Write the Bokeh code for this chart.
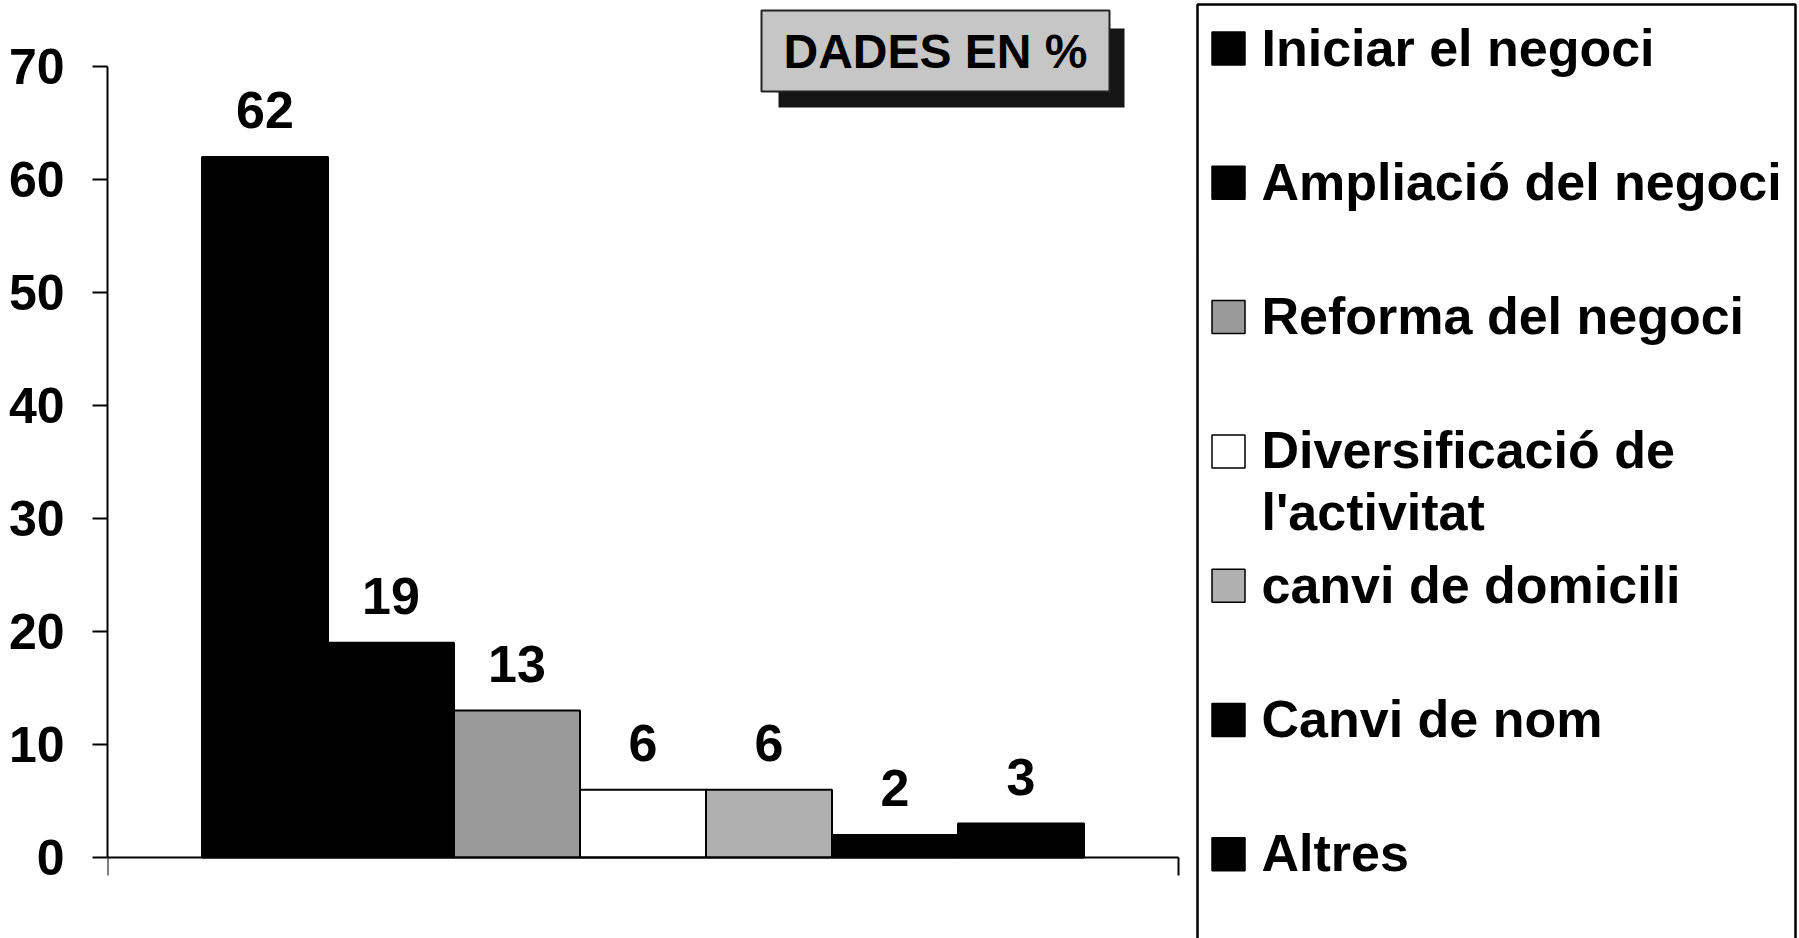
from bokeh.plotting import figure
from bokeh.models import Range1d, FixedTicker, Label, ColumnDataSource
from bokeh.embed import file_html
from bokeh.resources import INLINE
from bokeh.core.properties import value

# ---------------- data ----------------
series = ["Iniciar el negoci", "Ampliació del negoci", "Reforma del negoci",
          "Diversificació de\nl'activitat", "canvi de domicili", "Canvi de nom", "Altres"]
values = [62, 19, 13, 6, 6, 2, 3]
colors = ["#000000", "#000000", "#9a9a9a", "#ffffff", "#b0b0b0", "#000000", "#000000"]
y_ticks = [0, 10, 20, 30, 40, 50, 60, 70]
badge_text = "DADES EN %"

FONT = "Liberation Sans"

# ---------------- layout constants (pixels) ----------------
W, H = 1799, 938
FRAME_L = 107            # y-axis line
Y0_PX, Y70_PX = 857, 66  # screen rows of 0 and 70
PX_PER_UNIT_Y = (Y0_PX - Y70_PX) / 70.0
PX_PER_UNIT_X = 126.0
GAP = 1.25               # half gap on each side of the bar group (in bar widths)

n = len(values)
x_lo, x_hi = -GAP, n - 1 + GAP
x_end = x_lo + (W - FRAME_L) / PX_PER_UNIT_X
y_start = -(H - Y0_PX) / PX_PER_UNIT_Y
y_end = 70 + Y70_PX / PX_PER_UNIT_Y

p = figure(width=W, height=H, output_backend="svg", toolbar_location=None,
           x_range=Range1d(x_lo, x_end), y_range=Range1d(y_start, y_end),
           min_border_left=FRAME_L, min_border_right=0, min_border_top=0,
           min_border_bottom=0)
p.outline_line_color = None
p.grid.visible = False
p.background_fill_color = "white"
p.border_fill_color = "white"

# pixel-space ranges for the legend panel and the badge
p.extra_x_ranges = {"px": Range1d(FRAME_L, W)}
p.extra_y_ranges = {"px": Range1d(H, 0)}

# ---------------- bars ----------------
idx = list(range(n))
src = ColumnDataSource(dict(x=idx, top=values, color=colors,
                            label=[str(v) for v in values]))
p.vbar(x="x", top="top", width=1.0, bottom=0, fill_color="color",
       line_color="black", line_width=2, source=src)
p.text(x="x", y="top", text="label", source=src, text_align="center",
       text_baseline="alphabetic", y_offset=-47, text_font=value(FONT),
       text_font_style="bold", text_font_size="52px", text_color="black")

# ---------------- axes ----------------
ya = p.yaxis[0]
ya.ticker = FixedTicker(ticks=y_ticks)
ya.bounds = (0, 70)
ya.major_label_text_font = FONT
ya.major_label_text_font_style = "bold"
ya.major_label_text_font_size = "50px"
ya.major_label_text_color = "black"
ya.major_tick_out = 15
ya.major_tick_in = 0
ya.minor_tick_out = 0
ya.minor_tick_in = 0
ya.major_label_standoff = 28
ya.axis_line_width = 2
ya.major_tick_line_width = 2
ya.axis_line_color = "black"

xa = p.xaxis[0]
xa.fixed_location = 0
xa.ticker = FixedTicker(ticks=[x_lo, x_hi])
xa.bounds = (x_lo, x_hi)
xa.major_label_overrides = {x_lo: "", x_hi: ""}
xa.major_tick_out = 18
xa.major_tick_in = 0
xa.minor_tick_out = 0
xa.minor_tick_in = 0
xa.axis_line_width = 2
xa.major_tick_line_width = 2
xa.axis_line_color = "black"

# ---------------- badge "DADES EN %" with drop shadow ----------------
p.quad(left=[778], right=[1124], top=[28], bottom=[107], fill_color="#151515",
       line_color=None, x_range_name="px", y_range_name="px")
p.quad(left=[761], right=[1109], top=[10], bottom=[91], fill_color="#c6c6c6",
       line_color="#222222", line_width=2, x_range_name="px", y_range_name="px")
p.add_layout(Label(x=935, y=51, text=badge_text, text_align="center",
                   text_baseline="middle", text_font=FONT, text_font_style="bold",
                   text_font_size="48px", text_color="black",
                   x_range_name="px", y_range_name="px"))

# ---------------- legend ----------------
LEG_L, LEG_R, LEG_T = 1197, 1795, 4
p.quad(left=[LEG_L], right=[LEG_R], top=[LEG_T], bottom=[H + 30], fill_color=None,
       line_color="black", line_width=2.5, x_range_name="px", y_range_name="px")

SLOT0, PITCH = 48, 134.3
slots = [SLOT0 + PITCH * i for i in range(n)]
p.scatter(x=[1228] * n, y=slots, marker="square", size=33, fill_color=colors,
          line_color="black", line_width=1.5, x_range_name="px", y_range_name="px")

tx, ty, tt, toff = [], [], [], []
for i, name in enumerate(series):
    for j, line in enumerate(name.split("\n")):
        tx.append(1261)
        ty.append(slots[i])
        tt.append(line)
        toff.append(-1 + 62 * j)
p.text(x=tx, y=ty, text=tt, y_offset=toff, text_align="left",
       text_baseline="alphabetic", text_font=value(FONT), text_font_style="bold",
       text_font_size="52px", text_color="black", x_range_name="px", y_range_name="px")

open("out.html", "w").write(file_html(p, INLINE))
